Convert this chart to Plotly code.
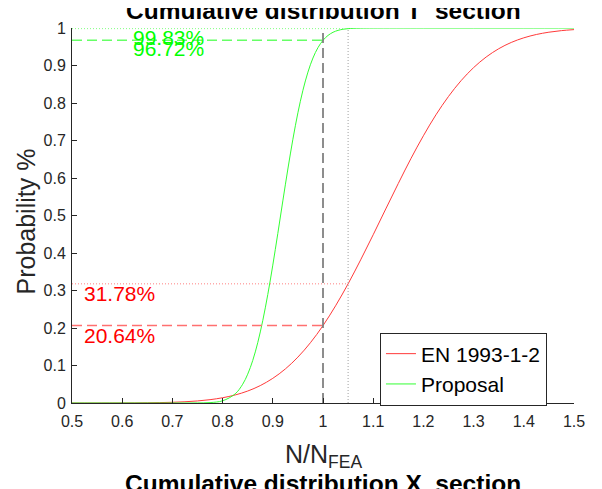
import plotly.graph_objects as go

# ---- data ----
x_en = [0.500, 0.525, 0.550, 0.575, 0.600, 0.625, 0.650, 0.675, 0.700, 0.725,
        0.750, 0.775, 0.800, 0.825, 0.850, 0.875, 0.900, 0.925, 0.950, 0.975,
        1.000, 1.025, 1.050, 1.075, 1.100, 1.125, 1.150, 1.175, 1.200, 1.225,
        1.250, 1.275, 1.300, 1.325, 1.350, 1.375, 1.400, 1.425, 1.450, 1.475, 1.500]
p_en = [0.0000, 0.0000, 0.0000, 0.0001, 0.0002, 0.0003, 0.0006, 0.0011, 0.0019, 0.0033,
        0.0055, 0.0089, 0.0140, 0.0214, 0.0319, 0.0464, 0.0658, 0.0908, 0.1224, 0.1608,
        0.2064, 0.2591, 0.3178, 0.3817, 0.4487, 0.5175, 0.5855, 0.6514, 0.7126, 0.7685,
        0.8175, 0.8595, 0.8944, 0.9226, 0.9447, 0.9615, 0.9738, 0.9827, 0.9888, 0.9930, 0.9957]

x_prop = [0.500, 0.600, 0.700, 0.725, 0.750, 0.775, 0.800, 0.825, 0.840, 0.850,
          0.860, 0.870, 0.880, 0.890, 0.900, 0.910, 0.920, 0.930, 0.940, 0.950,
          0.960, 0.970, 0.980, 0.990, 1.000, 1.010, 1.020, 1.030, 1.040, 1.050,
          1.060, 1.075, 1.100, 1.200, 1.300, 1.400, 1.500]
p_prop = [0.0000, 0.0000, 0.0000, 0.0000, 0.0002, 0.0011, 0.0059, 0.0243, 0.0500, 0.0768,
          0.1133, 0.1608, 0.2197, 0.2891, 0.3677, 0.4522, 0.5390, 0.6240, 0.7033, 0.7739,
          0.8338, 0.8824, 0.9200, 0.9477, 0.9672, 0.9802, 0.9886, 0.9937, 0.9967, 0.9983,
          0.9992, 0.9997, 1.0000, 1.0000, 1.0000, 1.0000, 1.0000]

x_limit = [1.00, 1.05]            # dashed / dotted reference abscissae
p_en_at = [0.2064, 0.3178]        # EN 1993-1-2 at x_limit
p_prop_at = [0.9672, 0.9983]      # Proposal at x_limit
x_min = 0.5
label_x_en = 0.52
label_x_prop = 0.618

series_names = ["EN 1993-1-2", "Proposal"]
title_top = "Cumulative distribution T\u00a0 section"
title_bottom = "Cumulative distribution X\u00a0 section"
x_title = "N/N<sub>FEA</sub>"
y_title = "Probability %"

FONT = "Liberation Sans, Arial, sans-serif"
AX = "#262626"

fig = go.Figure()

fig.add_trace(go.Scatter(x=x_en, y=p_en, mode="lines", name=series_names[0],
                         line=dict(color="#ff3a3a", width=1, shape="spline")))
fig.add_trace(go.Scatter(x=x_prop, y=p_prop, mode="lines", name=series_names[1],
                         line=dict(color="#33ff33", width=1, shape="spline")))

# guide lines
dash_style = "10px,5px"
dot_style = "1px,2px"
fig.add_trace(go.Scatter(x=[x_limit[0], x_limit[0]], y=[0, 1], mode="lines", showlegend=False,
                         line=dict(color="#7a7a7a", width=1.7, dash=dash_style)))
fig.add_trace(go.Scatter(x=[x_limit[1], x_limit[1]], y=[0, 1], mode="lines", showlegend=False,
                         line=dict(color="#a0a0a0", width=1, dash=dot_style)))
fig.add_trace(go.Scatter(x=[x_min, x_limit[0]], y=[p_en_at[0], p_en_at[0]], mode="lines", showlegend=False,
                         line=dict(color="#ff7070", width=1.5, dash=dash_style)))
fig.add_trace(go.Scatter(x=[x_min, x_limit[1]], y=[p_en_at[1], p_en_at[1]], mode="lines", showlegend=False,
                         line=dict(color="#ff8080", width=1, dash=dot_style)))
fig.add_trace(go.Scatter(x=[x_min, x_limit[0]], y=[p_prop_at[0], p_prop_at[0]], mode="lines", showlegend=False,
                         line=dict(color="#66ff66", width=1.5, dash=dash_style)))
fig.add_trace(go.Scatter(x=[x_min, x_limit[1]], y=[p_prop_at[1], p_prop_at[1]], mode="lines", showlegend=False,
                         line=dict(color="#80ff80", width=1, dash=dot_style)))

annotations = []
for val in p_en_at:
    annotations.append(dict(x=label_x_en, y=val, xref="x", yref="y", text=f"{val*100:.2f}%",
                            showarrow=False, xanchor="left", yanchor="top", yshift=4,
                            font=dict(family=FONT, size=21, color="#ff0000")))
for val in p_prop_at:
    annotations.append(dict(x=label_x_prop, y=val, xref="x", yref="y", text=f"{val*100:.2f}%",
                            showarrow=False, xanchor="left", yanchor="top", yshift=5,
                            font=dict(family=FONT, size=21, color="#00ff00")))
annotations.append(dict(x=0.5, y=1.005, xref="paper", yref="paper", text=f"<b>{title_top}</b>",
                        showarrow=False, xanchor="center", yanchor="bottom",
                        font=dict(family=FONT, size=24.5, color="#000000")))
annotations.append(dict(x=0.5, y=-0.172, xref="paper", yref="paper", text=f"<b>{title_bottom}</b>",
                        showarrow=False, xanchor="center", yanchor="top",
                        font=dict(family=FONT, size=24.5, color="#000000")))
annotations.append(dict(x=0.5, y=-0.0926, xref="paper", yref="paper", text=x_title,
                        showarrow=False, xanchor="center", yanchor="top",
                        font=dict(family=FONT, size=25, color=AX)))
annotations.append(dict(x=-0.0936, y=0.484, xref="paper", yref="paper", text=y_title,
                        showarrow=False, xanchor="center", yanchor="middle", textangle=-90,
                        font=dict(family=FONT, size=25, color=AX)))

fig.update_layout(
    width=602, height=489, autosize=False,
    margin=dict(l=64, r=36, t=17, b=94),
    paper_bgcolor="white", plot_bgcolor="white",
    font=dict(family=FONT, color=AX),
    annotations=annotations,
    legend=dict(x=0.6135, y=0.188, xanchor="left", yanchor="top",
                bgcolor="white", bordercolor=AX, borderwidth=1, tracegroupgap=0,
                font=dict(family=FONT, size=21, color="#000000")),
    xaxis=dict(range=[0.5, 1.5], dtick=0.1, tick0=0.5, ticks="inside", ticklen=5,
               tickcolor=AX, showline=True, linecolor=AX, linewidth=1, showgrid=False,
               zeroline=False, tickfont=dict(family=FONT, size=16, color=AX), mirror=False,
               ticklabelstandoff=4),
    yaxis=dict(range=[0, 1], dtick=0.1, tick0=0, ticks="inside", ticklen=5,
               tickcolor=AX, showline=True, linecolor=AX, linewidth=1, showgrid=False,
               zeroline=False, tickfont=dict(family=FONT, size=16, color=AX), mirror=False,
               ticklabelstandoff=2),
)

fig.write_html("out.html")
